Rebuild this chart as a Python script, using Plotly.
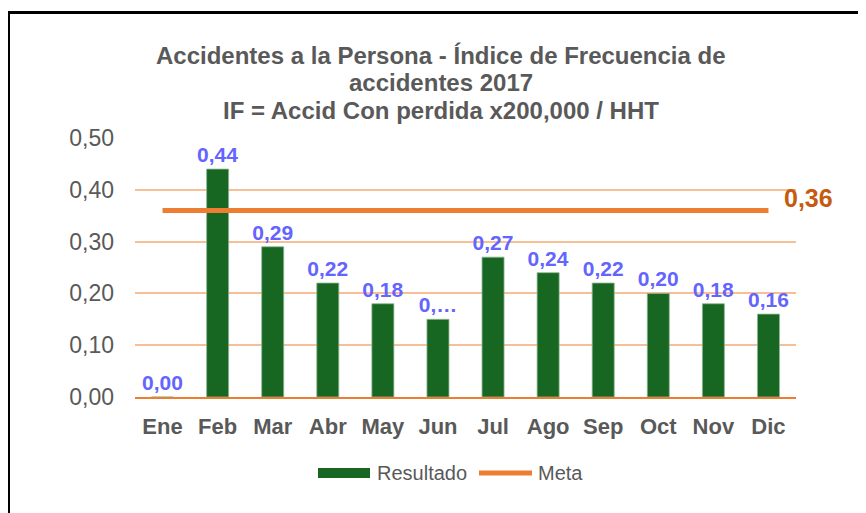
import plotly.graph_objects as go

months = ["Ene", "Feb", "Mar", "Abr", "May", "Jun", "Jul", "Ago", "Sep", "Oct", "Nov", "Dic"]
resultado = [0.00, 0.44, 0.29, 0.22, 0.18, 0.15, 0.27, 0.24, 0.22, 0.20, 0.18, 0.16]
resultado_labels = ["0,00", "0,44", "0,29", "0,22", "0,18", "0,…", "0,27", "0,24", "0,22", "0,20", "0,18", "0,16"]
meta = [0.36] * 12
meta_label = "0,36"
y_ticks = [0.0, 0.1, 0.2, 0.3, 0.4, 0.5]
y_ticktext = ["0,00", "0,10", "0,20", "0,30", "0,40", "0,50"]
title_lines = ["Accidentes a la Persona - Índice de Frecuencia de",
               "accidentes 2017",
               "IF = Accid Con perdida x200,000 / HHT"]
legend_names = ["Resultado", "Meta"]

FONT = "Liberation Sans, Arial, sans-serif"
OFF = 8  # page body margin
W, H = 866 - OFF, 513 - OFF
L, T = 135 - OFF, 138 - OFF
pw, ph = 661, 259
R, B = W - L - pw, H - T - ph

GREEN = "#176622"
ORANGE = "#ED7D31"

def px_x(p):  # page pixel -> paper x
    return (p - OFF - L) / pw

def px_y(p):  # page pixel -> paper y
    return (H - B - (p - OFF)) / ph

fig = go.Figure()
fig.add_trace(go.Bar(
    x=months, y=resultado, name=legend_names[0],
    marker=dict(color=GREEN, line=dict(color="#8fb894", width=0.8)),
    text=resultado_labels, textposition="outside", cliponaxis=False,
    constraintext="none",
    textfont=dict(family=FONT, size=21, color="#6464FF", weight="bold"),
    width=0.4, showlegend=False,
))
fig.add_trace(go.Scatter(
    x=months, y=meta, name=legend_names[1], mode="lines",
    line=dict(color=ORANGE, width=5), showlegend=False,
))

annotations = []
for txt, py in zip(title_lines, [55, 82, 110]):
    annotations.append(dict(
        text="<b>" + txt + "</b>", x=px_x(441), y=px_y(py), xref="paper", yref="paper",
        xanchor="center", yanchor="middle", showarrow=False,
        font=dict(family=FONT, size=24, color="#595959"),
    ))
annotations.append(dict(
    text="<b>" + meta_label + "</b>", x=months[-1], y=meta[-1], xref="x", yref="y",
    xanchor="left", yanchor="middle", xshift=14, yshift=13, showarrow=False,
    font=dict(family=FONT, size=25, color="#C55A11"),
))
# legend texts
annotations.append(dict(
    text=legend_names[0], x=px_x(375), y=px_y(473), xref="paper", yref="paper",
    xanchor="left", yanchor="middle", showarrow=False,
    font=dict(family=FONT, size=20, color="#595959"),
))
annotations.append(dict(
    text=legend_names[1], x=px_x(536), y=px_y(473), xref="paper", yref="paper",
    xanchor="left", yanchor="middle", showarrow=False,
    font=dict(family=FONT, size=20, color="#595959"),
))

shapes = [
    dict(type="line", xref="paper", yref="paper", x0=px_x(8.5), x1=px_x(880),
         y0=px_y(12.5), y1=px_y(12.5), line=dict(color="#000000", width=3)),
    dict(type="line", xref="paper", yref="paper", x0=px_x(8.5), x1=px_x(8.5),
         y0=px_y(11), y1=px_y(530), line=dict(color="#000000", width=3)),
    # legend swatches
    dict(type="rect", xref="paper", yref="paper", x0=px_x(318), x1=px_x(370),
         y0=px_y(478), y1=px_y(468), fillcolor=GREEN, line=dict(width=0)),
    dict(type="line", xref="paper", yref="paper", x0=px_x(479), x1=px_x(532),
         y0=px_y(473), y1=px_y(473), line=dict(color=ORANGE, width=5)),
]

fig.update_layout(
    width=W, height=H,
    margin=dict(l=L, r=R, t=T, b=B, autoexpand=False),
    paper_bgcolor="white", plot_bgcolor="white",
    font=dict(family=FONT, color="#595959"),
    bargap=0.6,
    showlegend=False,
    annotations=annotations,
    shapes=shapes,
)
fig.update_yaxes(
    range=[0, 0.5], tickvals=y_ticks, ticktext=y_ticktext,
    showgrid=True, gridcolor="#F8BE96", gridwidth=2,
    zeroline=False, showline=False, ticks="",
    tickfont=dict(family=FONT, size=23, color="#595959"),
    ticklabelstandoff=20,
)
fig.update_xaxes(
    range=[-0.5, len(months) - 0.5],
    showline=True, linecolor=ORANGE, linewidth=2, ticks="",
    tickfont=dict(family=FONT, size=22, color="#595959", weight="bold"),
    ticklabelstandoff=9,
)

fig.write_html("out.html")
